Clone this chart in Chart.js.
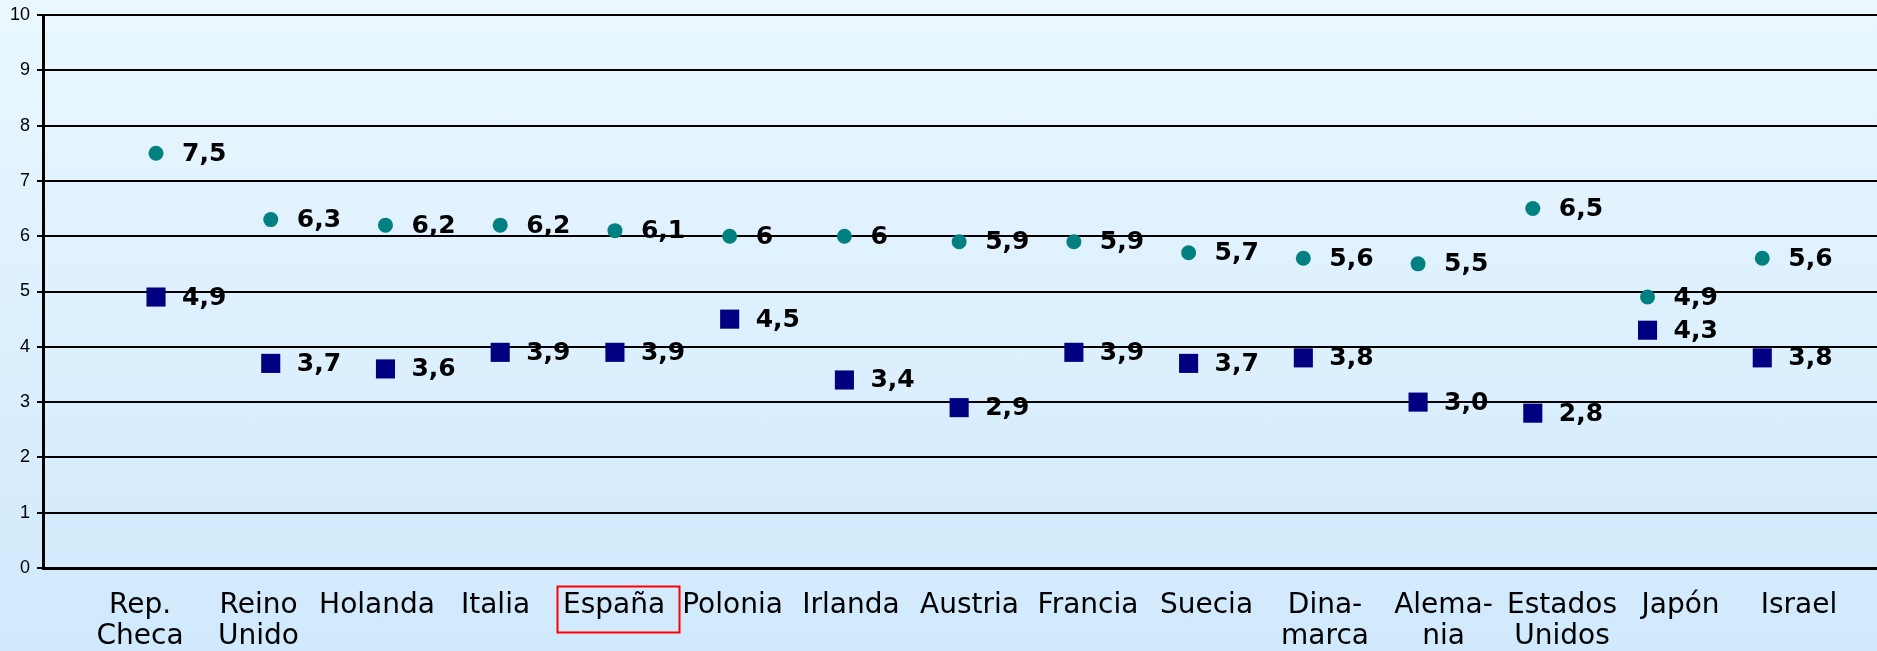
<!DOCTYPE html>
<html><head><meta charset="utf-8">
<script src="https://cdn.jsdelivr.net/npm/chart.js@4"></script>
<style>
html,body{margin:0;padding:0;}
body{width:1877px;height:651px;background:linear-gradient(to bottom,#eaf7ff 0%,#d0e9fc 100%);overflow:hidden;}
#wrap{position:relative;width:1877px;height:651px;}
</style></head><body>
<div id="wrap"><canvas id="c" width="1877" height="651"></canvas></div>
<script>
const categories = [["Rep.","Checa"],["Reino","Unido"],"Holanda","Italia","España","Polonia","Irlanda","Austria","Francia","Suecia",["Dina-","marca"],["Alema-","nia"],["Estados","Unidos"],"Japón","Israel"];
const seriesTeal = [7.5,6.3,6.2,6.2,6.1,6,6,5.9,5.9,5.7,5.6,5.5,6.5,4.9,5.6];
const seriesNavy = [4.9,3.7,3.6,3.9,3.9,4.5,3.4,2.9,3.9,3.7,3.8,3.0,2.8,4.3,3.8];
const labelsTeal = ["7,5","6,3","6,2","6,2","6,1","6","6","5,9","5,9","5,7","5,6","5,5","6,5","4,9","5,6"];
const labelsNavy = ["4,9","3,7","3,6","3,9","3,9","4,5","3,4","2,9","3,9","3,7","3,8","3,0","2,8","4,3","3,8"];
const yTicks = [0,1,2,3,4,5,6,7,8,9,10];
const highlighted = "España";

const valueLabels = [labelsTeal, labelsNavy];

const valueLabelPlugin = {
  id: 'valueLabels',
  afterDatasetsDraw(chart) {
    const ctx = chart.ctx;
    ctx.save();
    ctx.font = 'bold 25px "DejaVu Sans"';
    ctx.fillStyle = '#000';
    ctx.textBaseline = 'middle';
    ctx.textAlign = 'left';
    chart.data.datasets.forEach((ds, di) => {
      chart.getDatasetMeta(di).data.forEach((pt, i) => {
        ctx.fillText(valueLabels[di][i], pt.x + 26, pt.y + 1);
      });
    });
    ctx.restore();
  }
};

const highlightPlugin = {
  id: 'highlight',
  afterDraw(chart) {
    const sc = chart.scales.x2;
    const idx = categories.indexOf(highlighted);
    if (idx < 0) return;
    const ctx = chart.ctx;
    ctx.save();
    ctx.font = '28px "DejaVu Sans"';
    const w = ctx.measureText(highlighted).width;
    const cx = sc.getPixelForValue(idx);
    const top = chart.chartArea.bottom + 18;
    ctx.strokeStyle = '#ff0000';
    ctx.lineWidth = 2;
    ctx.strokeRect(Math.round(cx - w / 2 - 6) + 0.5, top + 0.5, Math.round(w + 20), 46);
    ctx.restore();
  }
};

const pts = arr => arr.map((v, i) => ({x: i, y: v}));
const noPad = s => { s.paddingLeft = 0; s.paddingRight = 0; };

new Chart(document.getElementById('c'), {
  type: 'scatter',
  data: {
    datasets: [
      {label: 'A', data: pts(seriesTeal), pointStyle: 'circle', pointRadius: 7.5, pointHoverRadius: 7.5,
       backgroundColor: '#008080', borderColor: '#008080', borderWidth: 0},
      {label: 'B', data: pts(seriesNavy), pointStyle: 'rect', pointRadius: 13.5, pointHoverRadius: 13.5,
       backgroundColor: '#000080', borderColor: '#000080', borderWidth: 0}
    ]
  },
  options: {
    responsive: false,
    animation: false,
    devicePixelRatio: 1,
    layout: {autoPadding: false, padding: {top: 15, right: 0, left: 0, bottom: 0}},
    plugins: {legend: {display: false}, tooltip: {enabled: false}},
    events: [],
    scales: {
      y: {
        min: 0, max: 10,
        afterBuildTicks: s => { s.ticks = yTicks.map(v => ({value: v})); },
        afterFit: s => { s.width = 43; s.paddingTop = 0; s.paddingBottom = 0; },
        ticks: {font: {family: 'Liberation Sans', size: 18}, color: '#000', padding: 7},
        grid: {color: '#000', lineWidth: 2, tickLength: 6, drawTicks: true, tickColor: '#000', tickWidth: 2},
        border: {color: '#000', width: 3}
      },
      x: {
        type: 'linear', position: 'bottom', weight: 0,
        min: -0.985, max: 15,
        ticks: {display: false},
        grid: {display: false, drawTicks: false},
        border: {display: true, color: '#000', width: 3},
        afterFit: s => { s.height = 0; noPad(s); }
      },
      x2: {
        type: 'linear', position: 'bottom', weight: 1,
        min: -0.8186, max: 14.658,
        afterBuildTicks: s => { s.ticks = categories.map((_, i) => ({value: i})); },
        ticks: {
          callback: (v, i) => categories[i],
          font: {family: 'DejaVu Sans', size: 28, lineHeight: 1.08},
          color: '#000', padding: 23, maxRotation: 0, minRotation: 0, autoSkip: false
        },
        grid: {display: false, drawTicks: false},
        border: {display: false},
        afterFit: s => { s.height = 83; noPad(s); }
      }
    }
  },
  plugins: [valueLabelPlugin, highlightPlugin]
});
</script>
</body></html>
